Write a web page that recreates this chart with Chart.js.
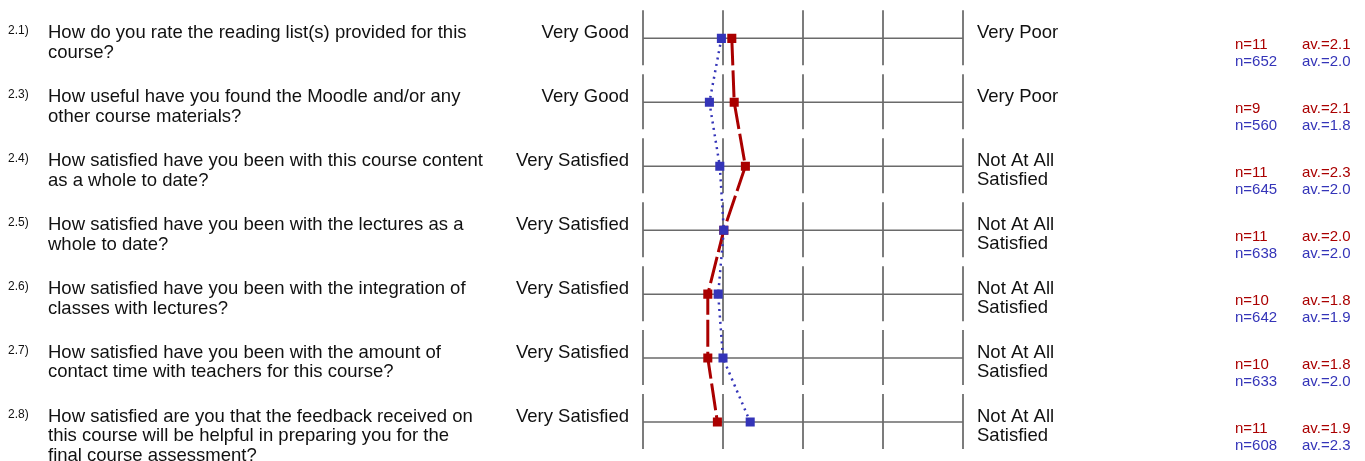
<!DOCTYPE html>
<html>
<head>
<meta charset="utf-8">
<script src="https://cdn.jsdelivr.net/npm/chart.js@4"></script>
<style>
  html, body { margin: 0; padding: 0; background: #fff; }
  #wrap { width: 1365px; height: 461px; }
</style>
</head>
<body>
<div id="wrap"><canvas id="profile" width="1365" height="461"></canvas></div>
<script>
// question numbers and texts (one entry per row)
const questionNums = ['2.1)', '2.3)', '2.4)', '2.5)', '2.6)', '2.7)', '2.8)'];
const questions = [
    ['How do you rate the reading list(s) provided for this', 'course?'],
    ['How useful have you found the Moodle and/or any', 'other course materials?'],
    ['How satisfied have you been with this course content', 'as a whole to date?'],
    ['How satisfied have you been with the lectures as a', 'whole to date?'],
    ['How satisfied have you been with the integration of', 'classes with lectures?'],
    ['How satisfied have you been with the amount of', 'contact time with teachers for this course?'],
    ['How satisfied are you that the feedback received on', 'this course will be helpful in preparing you for the', 'final course assessment?']
];
const leftLabels = [
    ['Very Good'], ['Very Good'], ['Very Satisfied'], ['Very Satisfied'],
    ['Very Satisfied'], ['Very Satisfied'], ['Very Satisfied']
];
const rightLabels = [
    ['Very Poor'], ['Very Poor'], ['Not At All', 'Satisfied'], ['Not At All', 'Satisfied'],
    ['Not At All', 'Satisfied'], ['Not At All', 'Satisfied'], ['Not At All', 'Satisfied']
];

// scale ticks 1..5
const scaleTicks = [1, 2, 3, 4, 5];

// course (red) and comparison (blue) series
const courseValues = [2.11, 2.14, 2.28, 2.01, 1.81, 1.81, 1.93];
const courseN = ['11', '9', '11', '11', '10', '10', '11'];
const courseAv = ['2.1', '2.1', '2.3', '2.0', '1.8', '1.8', '1.9'];

const allValues = [1.98, 1.83, 1.96, 2.01, 1.94, 2.0, 2.34];
const allN = ['652', '560', '645', '638', '642', '633', '608'];
const allAv = ['2.0', '1.8', '2.0', '2.0', '1.9', '2.0', '2.3'];

const RED = '#aa0000';
const BLUE = '#3434b8';
const FONT = '"Liberation Sans", Arial, sans-serif';

// segmented grid: one block per question row
const rowGrid = {
    id: 'rowGrid',
    beforeDatasetsDraw(chart) {
        const { ctx, scales: { x, y } } = chart;
        ctx.save();
        questions.forEach((q, i) => {
            const cy = y.getPixelForValue(i);
            ctx.strokeStyle = '#7c7c7c';
            ctx.lineWidth = 2;
            scaleTicks.forEach(t => {
                const px = x.getPixelForValue(t);
                ctx.beginPath();
                ctx.moveTo(px, cy - 28);
                ctx.lineTo(px, cy + 27);
                ctx.stroke();
            });
            ctx.strokeStyle = '#6a6a6a';
            ctx.lineWidth = 1.5;
            ctx.beginPath();
            ctx.moveTo(x.getPixelForValue(scaleTicks[0]), cy);
            ctx.lineTo(x.getPixelForValue(scaleTicks[scaleTicks.length - 1]), cy);
            ctx.stroke();
        });
        ctx.restore();
    }
};

// question texts, anchor labels and n / av. figures
const rowText = {
    id: 'rowText',
    afterDraw(chart) {
        const { ctx, scales: { y } } = chart;
        ctx.save();
        ctx.textBaseline = 'alphabetic';
        questions.forEach((lines, i) => {
            const cy = y.getPixelForValue(i);

            ctx.fillStyle = '#111';
            ctx.textAlign = 'left';
            ctx.font = '12px ' + FONT;
            ctx.fillText(questionNums[i], 8, cy - 4);

            ctx.font = '18.5px ' + FONT;
            lines.forEach((l, k) => ctx.fillText(l, 48, cy + k * 19.4));

            ctx.textAlign = 'right';
            leftLabels[i].forEach((l, k) => ctx.fillText(l, 629, cy + k * 19.4));

            ctx.textAlign = 'left';
            rightLabels[i].forEach((l, k) => ctx.fillText(l, 977, cy - 0.5 + k * 19.4));

            ctx.font = '15px ' + FONT;
            ctx.fillStyle = RED;
            ctx.fillText('n=' + courseN[i], 1235, cy + 10.5);
            ctx.fillText('av.=' + courseAv[i], 1302, cy + 10.5);
            ctx.fillStyle = BLUE;
            ctx.fillText('n=' + allN[i], 1235, cy + 27.5);
            ctx.fillText('av.=' + allAv[i], 1302, cy + 27.5);
        });
        ctx.restore();
    }
};

new Chart(document.getElementById('profile').getContext('2d'), {
    type: 'scatter',
    data: {
        datasets: [
            {
                label: 'all',
                data: allValues.map((v, i) => ({ x: v, y: i })),
                showLine: true,
                borderColor: BLUE,
                backgroundColor: BLUE,
                borderWidth: 2.5,
                borderDash: [2, 4.5],
                pointStyle: 'rect',
                pointRadius: 6.4,
                pointBorderWidth: 0,
                pointHoverRadius: 6.4
            },
            {
                label: 'course',
                data: courseValues.map((v, i) => ({ x: v, y: i })),
                showLine: true,
                borderColor: RED,
                backgroundColor: RED,
                borderWidth: 3,
                borderDash: [27, 5],
                pointStyle: 'rect',
                pointRadius: 6.4,
                pointBorderWidth: 0,
                pointHoverRadius: 6.4
            }
        ]
    },
    options: {
        responsive: false,
        animation: false,
        layout: { padding: { left: 643, right: 402, top: 6, bottom: 7 } },
        scales: {
            x: { type: 'linear', min: 1, max: 5, display: false },
            y: { type: 'linear', min: -0.5, max: 6.5, reverse: true, display: false }
        },
        plugins: {
            legend: { display: false },
            tooltip: { enabled: false }
        }
    },
    plugins: [rowGrid, rowText]
});
</script>
</body>
</html>
